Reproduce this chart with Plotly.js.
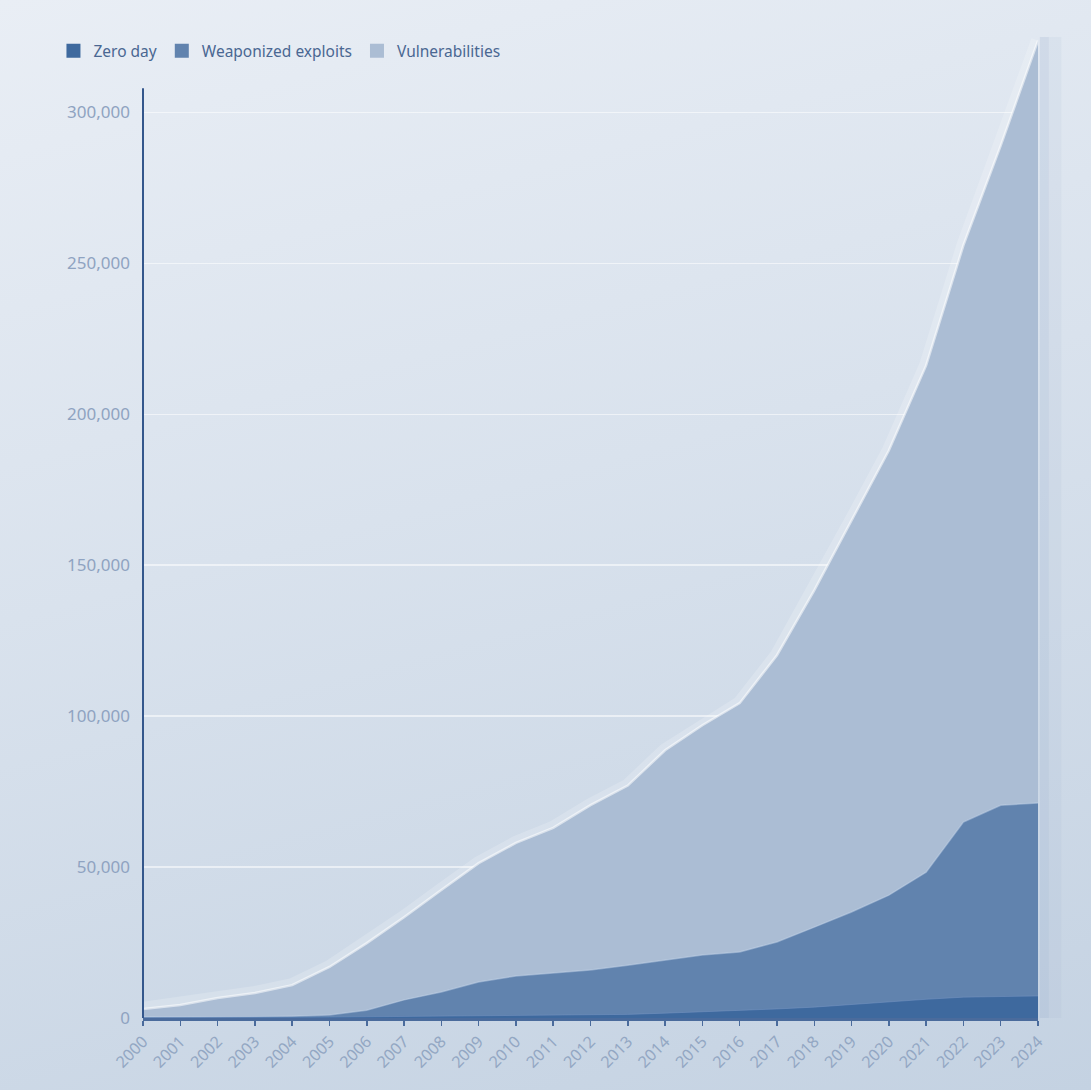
<!DOCTYPE html>
<html>
<head>
<meta charset="utf-8">
<script src="https://cdn.plot.ly/plotly-3.0.1.min.js"></script>
<style>
html, body { margin:0; padding:0; width:1091px; height:1090px; overflow:hidden;
  background: linear-gradient(165deg, #e9eef5 0%, #d9e2ed 45%, #c4d2e2 100%); }
#chart { width:1091px; height:1090px; }
</style>
</head>
<body>
<div id="chart"></div>
<script>
const years = [2000,2001,2002,2003,2004,2005,2006,2007,2008,2009,2010,2011,2012,2013,2014,2015,2016,2017,2018,2019,2020,2021,2022,2023,2024];
const vulnerabilities = [3000,4300,6600,8300,10900,16900,24800,33400,42400,51300,58000,63000,70500,77000,88700,97000,104300,120200,141700,164900,188000,216200,256000,289000,323800];
const weaponizedExploits = [300,300,300,400,600,1000,2600,6000,8600,11900,13900,14900,15900,17500,19200,20900,21900,25200,30100,35100,40700,48300,64900,70500,71200];
const zeroDay = [100,100,150,200,250,300,400,500,500,600,700,800,1000,1200,1600,2000,2500,3000,3600,4500,5300,6200,6900,7200,7300];
const seriesNames = ["Zero day", "Weaponized exploits", "Vulnerabilities"];
const yTickVals = [0,50000,100000,150000,200000,250000,300000];

const cZero = "#3e699e", cWeap = "#6183ae", cVuln = "#abbdd4";

const traces = [
  {x: years, y: vulnerabilities, type:"scatter", mode:"lines",
   line:{color:"rgba(255,255,255,0.18)", width:14}, showlegend:false, hoverinfo:"skip"},
  {x: years, y: vulnerabilities, type:"scatter", mode:"lines", fill:"tozeroy",
   fillcolor:cVuln, line:{color:"rgba(255,255,255,0.55)", width:2.5}, showlegend:false, hoverinfo:"skip"},
  {x: years, y: weaponizedExploits, type:"scatter", mode:"lines", fill:"tozeroy",
   fillcolor:cWeap, line:{color:"rgba(200,215,235,0.45)", width:1.5}, showlegend:false, hoverinfo:"skip"},
  {x: years, y: zeroDay, type:"scatter", mode:"lines", fill:"tozeroy",
   fillcolor:cZero, line:{color:"rgba(120,150,195,0.5)", width:1}, showlegend:false, hoverinfo:"skip"},
  {x:[null], y:[null], type:"scatter", mode:"markers", name:seriesNames[0],
   marker:{symbol:"square", size:14, color:cZero}},
  {x:[null], y:[null], type:"scatter", mode:"markers", name:seriesNames[1],
   marker:{symbol:"square", size:14, color:cWeap}},
  {x:[null], y:[null], type:"scatter", mode:"markers", name:seriesNames[2],
   marker:{symbol:"square", size:14, color:cVuln}}
];

const layout = {
  width:1091, height:1090,
  paper_bgcolor:"rgba(0,0,0,0)", plot_bgcolor:"rgba(0,0,0,0)",
  margin:{l:143, r:53, t:37, b:72, autoexpand:false},
  font:{family:"Noto Sans, Open Sans, sans-serif", color:"#8fa3c1"},
  showlegend:true,
  legend:{orientation:"h", xref:"container", yref:"container", x:0.049, y:0.953, xanchor:"left", yanchor:"middle",
    font:{size:15.5, color:"#4a6792"}, bgcolor:"rgba(0,0,0,0)", itemclick:false},
  xaxis:{range:[2000,2024], tickvals:years, ticktext:years.map(String), tickangle:-45,
    showgrid:false, zeroline:false, showline:true, linecolor:"#4a6b9c", linewidth:3,
    ticks:"outside", ticklen:5, tickcolor:"#4a6b9c", tickwidth:1.5,
    tickfont:{size:16, color:"#93a7c3"}, fixedrange:true, automargin:false},
  yaxis:{range:[0,325000], tickvals:yTickVals, tickformat:",d",
    showgrid:true, gridcolor:"rgba(255,255,255,0.55)", gridwidth:1.5, zeroline:false,
    showline:false, ticks:"", ticklabelstandoff:12,
    tickfont:{size:17, color:"#8fa3c1"}, fixedrange:true, automargin:false},
  shapes:[
    {type:"line", xref:"paper", x0:0, x1:0, yref:"y", y0:0, y1:308000,
     line:{color:"#34578c", width:2}, layer:"above"},
    {type:"rect", xref:"paper", x0:1.002, x1:1.012, yref:"paper", y0:0, y1:1,
     fillcolor:"rgba(140,165,200,0.2)", line:{width:0}, layer:"below"},
    {type:"rect", xref:"paper", x0:1.012, x1:1.026, yref:"paper", y0:0, y1:1,
     fillcolor:"rgba(140,165,200,0.09)", line:{width:0}, layer:"below"}
  ]
};

Plotly.newPlot("chart", traces, layout, {displayModeBar:false, staticPlot:true});
</script>
</body>
</html>
